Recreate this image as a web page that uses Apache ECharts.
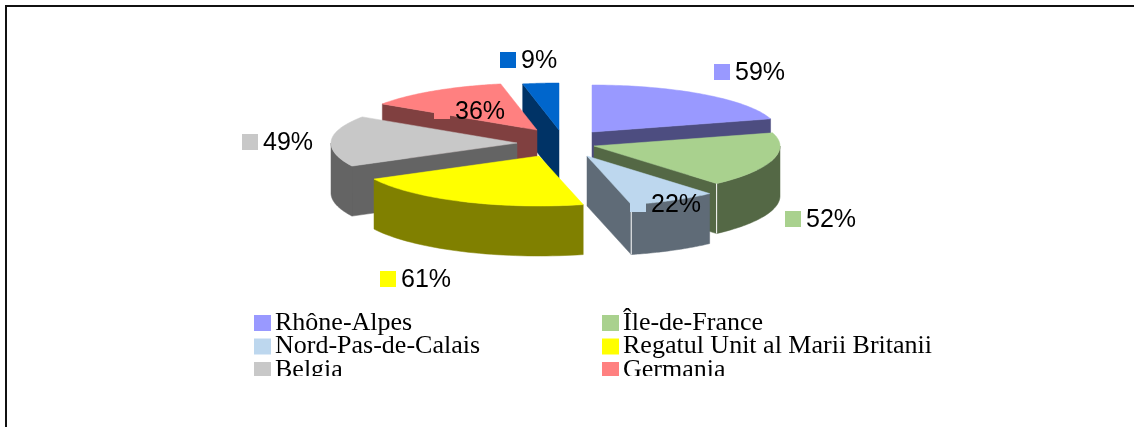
<!DOCTYPE html>
<html>
<head>
<meta charset="utf-8">
<script src="https://cdn.jsdelivr.net/npm/echarts@6/dist/echarts.min.js"></script>
<style>
  html, body { margin: 0; background: #fff; }
  #chart { width: 1134px; height: 427px; }
</style>
</head>
<body>
<div id="chart"></div>
<script>
// the seventh slice has no readable legend entry in the picture, its row is cut off
const categories = ['Rhône-Alpes', 'Île-de-France', 'Nord-Pas-de-Calais', 'Regatul Unit al Marii Britanii', 'Belgia', 'Germania', 'unnamed']
const shares = [59, 52, 22, 61, 49, 36, 9]

const topColors = ['#9999ff', '#a9d18e', '#bdd7ee', '#ffff00', '#c8c8c8', '#ff8080', '#0066cc']
const sideColors = ['#4d4d80', '#546845', '#5f6b77', '#808000', '#646464', '#804040', '#003366']

// pie shape, everything else comes from the shares
const center = [556, 143]
const radiusX = 186
const radiusBack = 47
const radiusFront = 50
const depth = 50
// how far each slice is pulled out of the pie
const explode = [[36, -11], [38, 3], [31, 13], [-17, 13], [-39, 0], [-19, -13], [3, -13]]
// where each "swatch + percent" label sits
const labelAt = [[714, 72], [785, 219], [630, 204], [380, 279], [242, 142], [434, 111], [500, 60]]
// back to front
const paintOrder = [6, 5, 4, 0, 1, 2, 3]

const total = shares.reduce((a, b) => a + b, 0)
const toAngle = v => v / total * Math.PI * 2

const sliceAngles = i => {
  const start = toAngle(shares.slice(0, i).reduce((a, b) => a + b, 0))
  return [start, start + toAngle(shares[i])]
}

const rim = (apex, angle) => {
  const c = Math.cos(angle)
  return [
    apex[0] + radiusX * Math.sin(angle),
    apex[1] - (c > 0 ? radiusBack : radiusFront) * c
  ]
}
const drop = p => [p[0], p[1] + depth]

const polygon = (points, fill) => ({
  type: 'polygon',
  shape: { points },
  style: { fill, stroke: fill, lineWidth: 0.5 }
})

const renderSlice = i => () => {
  const [a0, a1] = sliceAngles(i)
  const apex = [center[0] + explode[i][0], center[1] + explode[i][1]]
  const side = sideColors[i]
  const children = []

  // cut faces, only the ones turned towards the viewer
  if (Math.sin(a0) < 0) {
    const p = rim(apex, a0)
    children.push(polygon([apex, p, drop(p), drop(apex)], side))
  }
  if (Math.sin(a1) > 0) {
    const p = rim(apex, a1)
    children.push(polygon([apex, p, drop(p), drop(apex)], side))
  }

  // outer wall, front half only
  const from = Math.max(a0, Math.PI / 2)
  const to = Math.min(a1, Math.PI * 1.5)
  if (to > from) {
    const edge = []
    for (let k = 0; k <= 40; k++) edge.push(rim(apex, from + (to - from) * k / 40))
    children.push(polygon(edge.concat(edge.map(drop).reverse()), side))
  }

  // top face
  const top = [apex]
  for (let k = 0; k <= 60; k++) top.push(rim(apex, a0 + (a1 - a0) * k / 60))
  children.push(polygon(top, topColors[i]))

  // thin white corner line on the two right hand slices
  if (Math.sin(a1) > 0 && to > from) {
    const p = rim(apex, a1)
    children.push({
      type: 'line',
      shape: { x1: p[0], y1: p[1], x2: p[0], y2: p[1] + depth },
      style: { stroke: '#fff', lineWidth: 1 }
    })
  }
  return { type: 'group', children }
}

const renderLabel = (params, api) => {
  const i = params.dataIndex
  const [x, y] = labelAt[i]
  return {
    type: 'group',
    children: [
      { type: 'rect', shape: { x, y: y - 8, width: 16, height: 16 }, style: { fill: topColors[i] } },
      {
        type: 'text',
        style: {
          x: x + 21,
          y: y + 1,
          text: api.value(0) + '%',
          font: '25px "Liberation Sans", Arial, sans-serif',
          fill: '#000',
          verticalAlign: 'middle'
        }
      }
    ]
  }
}

const legendBase = {
  orient: 'vertical',
  top: 305,
  icon: 'rect',
  itemWidth: 17,
  itemHeight: 16,
  itemGap: -2.5,
  selectedMode: false,
  textStyle: {
    fontFamily: '"Liberation Serif", "Times New Roman", serif',
    fontSize: 26,
    lineHeight: 24,
    color: '#000',
    padding: [0, 0, 0, -1]
  }
}

const chart = echarts.init(document.getElementById('chart'), null, { renderer: 'canvas' })

chart.setOption({
  animation: false,
  backgroundColor: '#fff',
  legend: [
    Object.assign({}, legendBase, { left: 249, data: [categories[0], categories[2], categories[4]] }),
    Object.assign({}, legendBase, { left: 597, data: [categories[1], categories[3], categories[5]] })
  ],
  graphic: [
    // the legend is cut off at the bottom of the plot area
    {
      type: 'rect', z: 200, silent: true,
      shape: { x: 240, y: 376, width: 720, height: 51 },
      style: { fill: '#fff' }
    },
    // page frame, only top and left are on the picture
    {
      type: 'polyline', z: 201, silent: true,
      shape: { points: [[6, 427], [6, 6], [1134, 6]] },
      style: { stroke: '#111', lineWidth: 2, fill: null }
    }
  ],
  series: paintOrder.map((i, order) => ({
    type: 'custom',
    name: categories[i],
    coordinateSystem: 'none',
    z: 2 + order,
    silent: true,
    itemStyle: { color: topColors[i] },
    data: [[shares[i]]],
    renderItem: renderSlice(i)
  })).concat({
    type: 'custom',
    name: 'labels',
    coordinateSystem: 'none',
    z: 50,
    silent: true,
    data: shares.map(v => [v]),
    renderItem: renderLabel
  })
})

window.addEventListener('resize', () => chart.resize())
</script>
</body>
</html>
